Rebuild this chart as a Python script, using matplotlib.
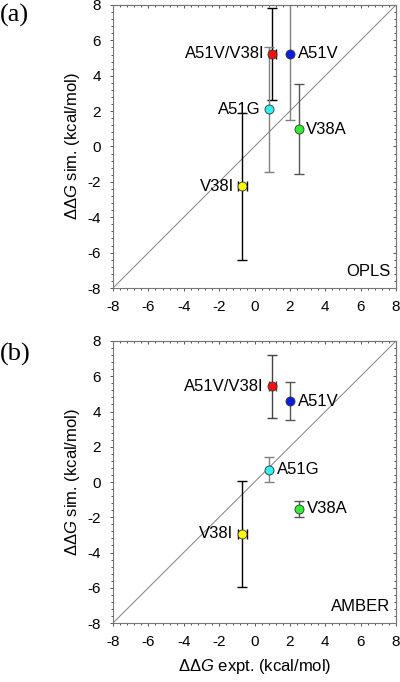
import numpy as np
import matplotlib
matplotlib.use("Agg")
import matplotlib.pyplot as plt
from matplotlib.ticker import MultipleLocator

plt.rcParams['font.family'] = ['Liberation Sans', 'DejaVu Sans']
plt.rcParams['axes.unicode_minus'] = False
plt.rcParams['mathtext.fontset'] = 'custom'
plt.rcParams['mathtext.rm'] = 'Liberation Sans'
plt.rcParams['mathtext.it'] = 'Liberation Sans:italic'

names = ["A51V/V38I", "A51V", "A51G", "V38A", "V38I"]
colors = ["#ff1010", "#0a1ee0", "#30f0f0", "#30ee30", "#fafa10"]
expt = [1.0, 2.0, 0.81, 2.51, -0.68]
expt_err = [0.2, 0.0, 0.0, 0.0, 0.28]

opls = [5.23, 5.23, 2.1, 0.98, -2.26]
opls_err = [2.6, 3.73, 3.55, 2.56, 4.14]
opls_errcol = ["black", "gray", "gray", "#555555", "black"]

amber = [5.42, 4.58, 0.69, -1.52, -2.94]
amber_err = [1.77, 1.07, 0.71, 0.47, 3.0]
amber_errcol = ["#444444", "#555555", "gray", "#555555", "black"]

ticks = [-8, -6, -4, -2, 0, 2, 4, 6, 8]


def draw_panel(ax, sim, sim_err, errcol, label_offsets, tag):
    ax.plot([-8, 8], [-8, 8], color="gray", lw=0.7, zorder=1)
    for i in range(len(names)):
        ax.errorbar(expt[i], sim[i], yerr=sim_err[i],
                    xerr=expt_err[i] if expt_err[i] > 0 else None,
                    fmt='none', ecolor=errcol[i], elinewidth=1.0,
                    capsize=3.5, capthick=1.0, zorder=2, clip_on=True)
        ax.plot(expt[i], sim[i], 'o', color=colors[i], mec="#333333",
                mew=0.6, ms=6.5, zorder=3)
        dx, ha = label_offsets[i]
        ax.text(expt[i] + dx, sim[i], names[i], ha=ha, va='center',
                fontsize=12)
    ax.text(7.7, -7.5, tag, ha='right', va='bottom', fontsize=12)
    ax.set_xlim(-8, 8)
    ax.set_ylim(-8, 8)
    ax.set_xticks(ticks)
    ax.set_yticks(ticks)
    ax.xaxis.set_minor_locator(MultipleLocator(0.4))
    ax.yaxis.set_minor_locator(MultipleLocator(0.4))
    ax.tick_params(which='both', direction='out', labelsize=11,
                   color="#555555", width=0.7, pad=6)
    ax.tick_params(which='major', length=2.5)
    ax.tick_params(which='minor', length=1.5)
    for s in ax.spines.values():
        s.set_color("#777777")
        s.set_linewidth(0.8)
    # inward ticks on top and right
    sec_x = ax.secondary_xaxis('top')
    sec_x.set_xticks(ticks)
    sec_x.xaxis.set_minor_locator(MultipleLocator(0.4))
    sec_x.tick_params(which='both', direction='in', labeltop=False,
                      color="#555555", width=0.7)
    sec_x.tick_params(which='major', length=2.5)
    sec_x.tick_params(which='minor', length=1.5)
    sec_x.spines['top'].set_color("#777777")
    sec_y = ax.secondary_yaxis('right')
    sec_y.set_yticks(ticks)
    sec_y.yaxis.set_minor_locator(MultipleLocator(0.4))
    sec_y.tick_params(which='both', direction='in', labelright=False,
                      color="#555555", width=0.7)
    sec_y.tick_params(which='major', length=2.5)
    sec_y.tick_params(which='minor', length=1.5)
    sec_y.spines['right'].set_color("#777777")
    ax.set_ylabel(r"ΔΔ$G$ sim. (kcal/mol)", fontsize=12, labelpad=4)


fig = plt.figure(figsize=(4.0, 6.82), dpi=100)
ax1 = fig.add_axes([0.2825, 0.5777, 0.7075, 0.415])
ax2 = fig.add_axes([0.2825, 0.0865, 0.7075, 0.4135])

offs_a = [(-0.45, 'right'), (0.45, 'left'), (-0.45, 'right'),
          (0.4, 'left'), (-0.45, 'right')]
offs_b = [(-0.5, 'right'), (0.45, 'left'), (0.45, 'left'),
          (0.45, 'left'), (-0.5, 'right')]

draw_panel(ax1, opls, opls_err, opls_errcol, offs_a, "OPLS")
draw_panel(ax2, amber, amber_err, amber_errcol, offs_b, "AMBER")
ax2.set_xlabel(r"ΔΔ$G$ expt. (kcal/mol)", fontsize=12, labelpad=6)

fig.text(0.0, 0.995, "(a)", family="Liberation Serif", fontsize=19,
         ha='left', va='top')
fig.text(0.0, 0.497, "(b)", family="Liberation Serif", fontsize=19,
         ha='left', va='top')

fig.savefig("out.png", dpi=100)
